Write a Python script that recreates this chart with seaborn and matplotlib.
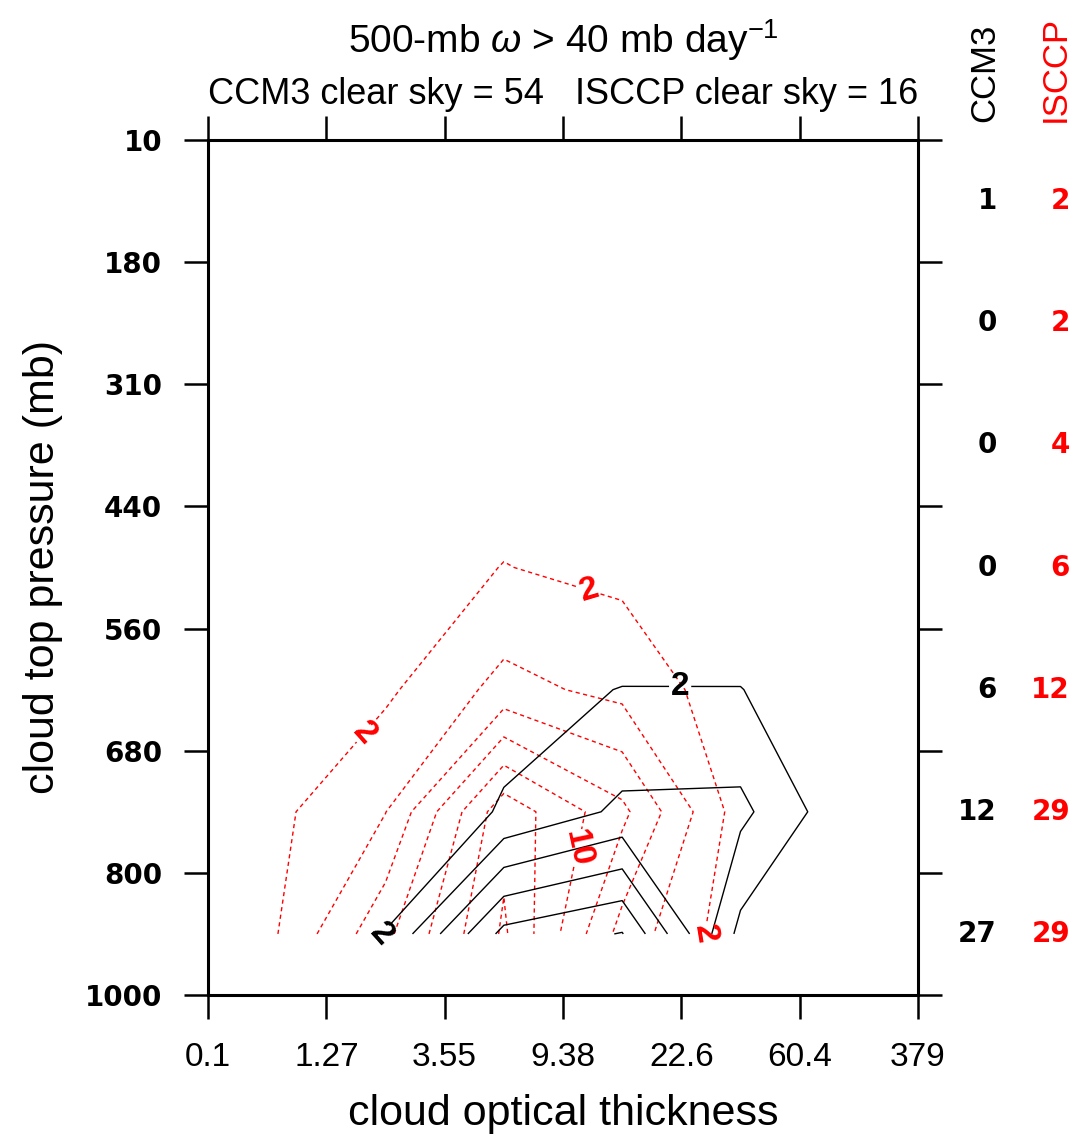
import numpy as np
import matplotlib
matplotlib.use("Agg")
import matplotlib.pyplot as plt
import seaborn as sns

# bin edges shown on the axes
tau_edges = ["0.1", "1.27", "3.55", "9.38", "22.6", "60.4", "379"]
pres_edges = ["10", "180", "310", "440", "560", "680", "800", "1000"]

# cloud fraction (%) per bin, rows = pressure bins top->bottom, cols = optical thickness bins
ccm3 = [
    [0.1, 0.1, 0.2, 0.3, 0.2, 0.1],
    [0.0, 0.0, 0.1, 0.1, 0.1, 0.0],
    [0.0, 0.0, 0.1, 0.1, 0.1, 0.0],
    [0.0, 0.0, 0.1, 0.2, 0.1, 0.0],
    [0.1, 0.3, 1.4, 2.05, 2.05, 0.3],
    [0.25, 0.6, 2.15, 4.4, 4.5, 0.1],
    [0.4, 2.05, 10.6, 12.1, 1.4, 0.5],
]
isccp = [
    [0.2, 0.3, 0.4, 0.5, 0.4, 0.2],
    [0.2, 0.3, 0.4, 0.5, 0.4, 0.2],
    [0.3, 0.6, 1.0, 1.0, 0.7, 0.4],
    [0.3, 1.0, 2.05, 1.48, 0.8, 0.4],
    [0.9, 1.64, 4.65, 3.4, 0.76, 0.6],
    [1.37, 3.95, 13.3, 8.5, 1.0, 0.8],
    [1.45, 7.5, 14.3, 5.25, 0.6, 0.0],
]
ccm3_totals = [1, 0, 0, 0, 6, 12, 27]
isccp_totals = [2, 2, 4, 6, 12, 29, 29]
ccm3_clear = 54
isccp_clear = 16
levels = [2, 4, 6, 8, 10, 12, 14]

sns.set_theme(style="ticks")
plt.rcParams['font.family'] = ['Liberation Sans', 'DejaVu Sans']
plt.rcParams['mathtext.fontset'] = 'custom'
plt.rcParams['mathtext.rm'] = 'Liberation Sans'
plt.rcParams['mathtext.it'] = 'Liberation Sans:italic'
plt.rcParams['lines.dashed_pattern'] = [3.0, 2.5]
for key in ['text.color', 'axes.labelcolor', 'xtick.color', 'ytick.color', 'axes.edgecolor']:
    plt.rcParams[key] = 'black'

fig = plt.figure(figsize=(10.75, 11.38), dpi=100)
ax = fig.add_axes([208 / 1075, 1 - 995 / 1138, 710 / 1075, 855 / 1138])

xc = np.arange(len(tau_edges) - 1) + 0.5
yc = np.arange(len(pres_edges) - 1) + 0.5

cs_i = ax.contour(xc, yc, np.array(isccp), levels=levels, colors='red',
                  linewidths=1.0, linestyles='dashed')
cs_c = ax.contour(xc, yc, np.array(ccm3), levels=levels, colors='black',
                  linewidths=1.0, linestyles='solid')

# contour labels, bold (manual spots, nearest contour gets the label)
plt.rcParams['font.weight'] = 'bold'
ax.clabel(cs_c, fmt='%d', fontsize=24, inline=True, inline_spacing=4,
          manual=[(3.99, 4.5), (1.45, 6.5)])
ax.clabel(cs_i, fmt='%d', fontsize=24, inline=True, inline_spacing=4,
          manual=[(3.23, 3.68), (1.33, 4.87), (3.19, 5.81), (4.16, 6.5)])
plt.rcParams['font.weight'] = 'normal'

ax.set_xlim(0, len(tau_edges) - 1)
ax.set_ylim(len(pres_edges) - 1, 0)
ax.set_xticks(range(len(tau_edges)))
ax.set_xticklabels(tau_edges)
ax.set_yticks(range(len(pres_edges)))
ax.set_yticklabels(pres_edges)
ax.tick_params(axis='both', direction='out', length=17, width=1.8, top=True, right=True)
ax.tick_params(axis='x', labelsize=24, pad=17)
ax.tick_params(axis='y', labelsize=20, pad=16)
for lab in ax.get_yticklabels():
    lab.set_fontfamily('DejaVu Sans')
    lab.set_fontweight('bold')
for s in ax.spines.values():
    s.set_linewidth(2.2)

ax.set_xlabel('cloud optical thickness', fontsize=31, labelpad=15)
ax.set_ylabel('cloud top pressure (mb)', fontsize=31, labelpad=16)

ax.text(0.5, 1.117, r'500-mb $\omega$ > 40 mb day$^{-1}$', transform=ax.transAxes,
        ha='center', va='center', fontsize=28)
ax.text(0.0, 1.053, f'CCM3 clear sky = {ccm3_clear}', transform=ax.transAxes,
        ha='left', va='center', fontsize=26)
ax.text(1.0, 1.053, f'ISCCP clear sky = {isccp_clear}', transform=ax.transAxes,
        ha='right', va='center', fontsize=26)

# right-hand totals per pressure level
ax.text(1.094, 1.021, 'CCM3', transform=ax.transAxes, rotation=90,
        ha='center', va='bottom', fontsize=25)
ax.text(1.193, 1.021, 'ISCCP', transform=ax.transAxes, rotation=90,
        ha='center', va='bottom', fontsize=25, color='red')
trans = ax.get_yaxis_transform()
for yy, a, b in zip(yc, ccm3_totals, isccp_totals):
    ax.text(1.111, yy, str(a), transform=trans, ha='right', va='center',
            fontsize=20, fontweight='bold', family='DejaVu Sans')
    ax.text(1.214, yy, str(b), transform=trans, ha='right', va='center',
            fontsize=20, fontweight='bold', family='DejaVu Sans', color='red')

fig.savefig('out.png', dpi=100, facecolor='white')
